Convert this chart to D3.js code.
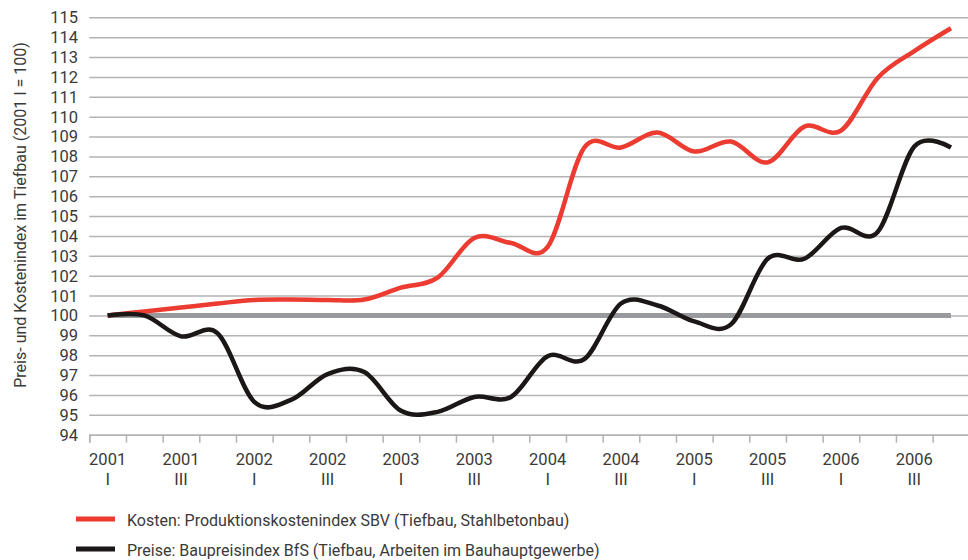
<!DOCTYPE html>
<html>
<head>
<meta charset="utf-8">
<script src="https://cdn.jsdelivr.net/npm/d3@7"></script>
<style>
  body { margin: 0; background: #fff; }
  text { font-family: Roboto, "Open Sans", sans-serif; font-weight: 400; fill: #3a3a3a; }
</style>
</head>
<body>
<svg id="chart" width="968" height="560"></svg>
<script>
// Quarters 2001 I .. 2006 IV
const years = ['2001', '2002', '2003', '2004', '2005', '2006'];
const quarters = ['I', 'II', 'III', 'IV'];
const periods = years.flatMap(y => quarters.map(q => ({ year: y, q })));

// Kosten: Produktionskostenindex SBV (Tiefbau, Stahlbetonbau)
const kosten = [100.0, 100.2, 100.4, 100.6, 100.78, 100.8, 100.78, 100.8,
                101.4, 101.9, 103.9, 103.65, 103.45, 108.45, 108.45, 109.2,
                108.25, 108.75, 107.7, 109.5, 109.3, 111.95, 113.3, 114.45];

// Preise: Baupreisindex BfS (Tiefbau, Arbeiten im Bauhauptgewerbe)
const preise = [100.0, 100.0, 98.95, 99.1, 95.65, 95.75, 97.05, 97.15,
                95.2, 95.15, 95.9, 95.9, 97.95, 97.8, 100.6, 100.5,
                99.7, 99.55, 102.85, 102.85, 104.4, 104.2, 108.5, 108.45];

// Basislinie 2001 I = 100
const basis = periods.map(() => 100);

const yTicks = d3.range(94, 116);

const legendItems = [
  { label: 'Kosten: Produktionskostenindex SBV (Tiefbau, Stahlbetonbau)', color: '#ec3b30' },
  { label: 'Preise: Baupreisindex BfS (Tiefbau, Arbeiten im Bauhauptgewerbe)', color: '#1b1717' }
];

const svg = d3.select('#chart');
const plotLeft = 89.3, plotRight = 969.3, plotTop = 17.3, plotBottom = 434.7;

const x = d3.scaleLinear().domain([0, periods.length]).range([plotLeft, plotRight]);
const y = d3.scaleLinear().domain([94, 115]).range([plotBottom, plotTop]);

// Horizontal gridlines
const grid = svg.append('g')
  .attr('transform', `translate(${plotLeft},0)`)
  .call(d3.axisLeft(y).tickValues(yTicks).tickSize(-(968 - plotLeft)).tickFormat(''));
grid.select('.domain').remove();
grid.selectAll('line').attr('stroke', '#b3b3b3').attr('stroke-width', 1.5);

// Y tick labels
svg.append('g').selectAll('text')
  .data(yTicks)
  .enter().append('text')
  .attr('x', 78)
  .attr('y', d => y(d))
  .attr('dy', '0.36em')
  .attr('text-anchor', 'end')
  .attr('font-size', '16.5px')
  .text(d => d);

// X axis with tick marks at quarter boundaries
const xAxis = svg.append('g')
  .attr('transform', `translate(0,${plotBottom})`)
  .call(d3.axisBottom(x).tickValues(d3.range(periods.length + 1)).tickSize(8).tickFormat(''));
xAxis.select('.domain').attr('stroke', '#b3b3b3').attr('stroke-width', 1.5);
xAxis.selectAll('.tick line').attr('stroke', '#b3b3b3').attr('stroke-width', 1.5);

// X labels every second quarter
const xLabels = svg.append('g').selectAll('text')
  .data(periods.filter((p, i) => i % 2 === 0))
  .enter().append('text')
  .attr('text-anchor', 'middle')
  .attr('font-size', '16.5px')
  .attr('transform', (d, i) => `translate(${x(i * 2 + 0.5)},0)`);
xLabels.append('tspan').attr('x', 0).attr('y', 465).text(d => d.year);
xLabels.append('tspan').attr('x', 0).attr('y', 485).text(d => d.q);

// Y axis title
svg.append('text')
  .attr('transform', 'translate(26,215) rotate(-90)')
  .attr('text-anchor', 'middle')
  .attr('font-size', '16px')
  .text('Preis- und Kostenindex im Tiefbau (2001 I = 100)');

const line = d3.line()
  .x((d, i) => x(i + 0.5))
  .y(d => y(d))
  .curve(d3.curveCardinal.tension(0));

svg.append('path')
  .attr('d', d3.line().x((d, i) => x(i + 0.5)).y(d => y(d))(basis))
  .attr('fill', 'none')
  .attr('stroke', '#999a9d')
  .attr('stroke-width', 5);

svg.append('path')
  .attr('d', line(kosten))
  .attr('fill', 'none')
  .attr('stroke', legendItems[0].color)
  .attr('stroke-width', 4.5);

svg.append('path')
  .attr('d', line(preise))
  .attr('fill', 'none')
  .attr('stroke', legendItems[1].color)
  .attr('stroke-width', 4.5);

// Legend
const legend = svg.append('g').selectAll('g')
  .data(legendItems)
  .enter().append('g')
  .attr('transform', (d, i) => `translate(0,${519 + i * 30})`);
legend.append('line')
  .attr('x1', 76).attr('x2', 115)
  .attr('stroke', d => d.color)
  .attr('stroke-width', 5);
legend.append('text')
  .attr('x', 127)
  .attr('y', 6.5)
  .attr('font-size', '16px')
  .text(d => d.label);
</script>
</body>
</html>
